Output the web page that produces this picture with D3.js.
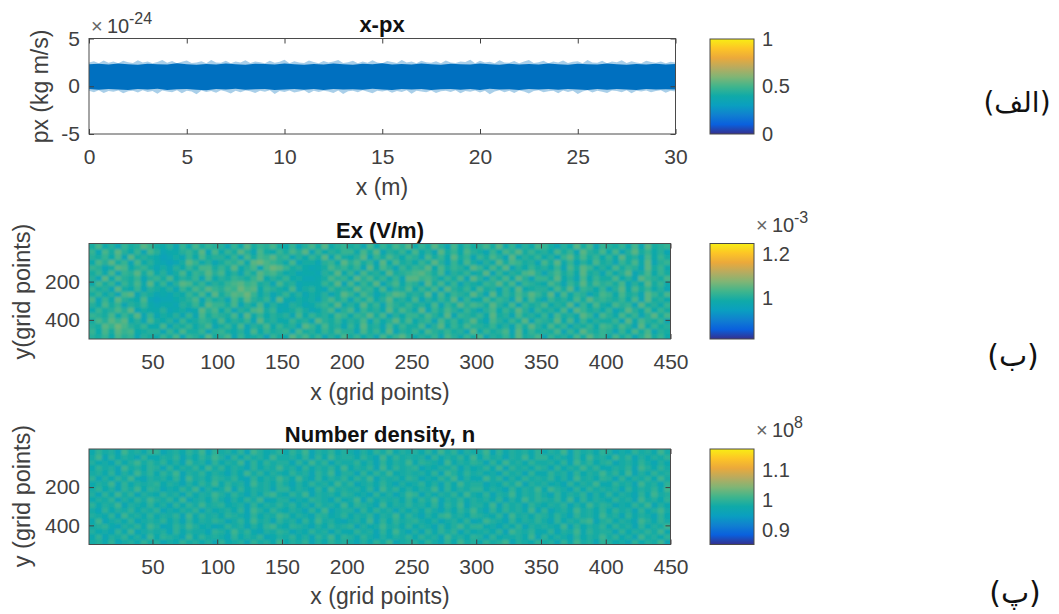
<!DOCTYPE html>
<html lang="en">
<head>
  <meta charset="UTF-8">
  <title>x-px, Ex and number density</title>
  <script src="https://d3js.org/d3.v7.min.js"></script>
  <style>
    html, body { margin: 0; background: #fff; }
    svg { display: block; }
    text { font-family: "Liberation Sans", Arial, sans-serif; fill: #404040; }
    .domain { display: none; }
    .tick line { stroke: #404040; }
    .tick text { font-size: 21px; fill: #404040; }
    .bar .tick text { font-size: 20px; }
  </style>
</head>
<body>
  <svg id="chart" width="1059" height="614"></svg>

  <script>
    // px axis ticks and grid axis ticks
    const pxXTicks = [0, 5, 10, 15, 20, 25, 30];
    const pxYTicks = [-5, 0, 5];
    const gridXTicks = [50, 100, 150, 200, 250, 300, 350, 400, 450];
    const gridYTicks = [200, 400];

    // edge of the x-px cloud, read every 0.5 m, units of 1e-24 kg m/s
    const coreTop = [2.3,2.35,2.28,2.38,2.3,2.25,2.36,2.3,2.27,2.4,2.3,2.26,2.34,2.28,2.38,2.3,2.25,2.36,2.32,2.27,2.38,2.3,2.26,2.34,2.29,2.37,2.31,2.25,2.35,2.3,2.4,2.27,2.33,2.29,2.38,2.3,2.26,2.35,2.3,2.27,2.37,2.31,2.26,2.36,2.29,2.34,2.28,2.38,2.3,2.26,2.35,2.31,2.27,2.37,2.3,2.26,2.34,2.29,2.36,2.28,2.32];
    const coreBottom = [-0.3,-0.36,-0.28,-0.34,-0.4,-0.3,-0.35,-0.27,-0.38,-0.32,-0.28,-0.36,-0.41,-0.3,-0.34,-0.27,-0.37,-0.31,-0.28,-0.39,-0.33,-0.29,-0.36,-0.3,-0.4,-0.28,-0.35,-0.31,-0.37,-0.27,-0.33,-0.38,-0.3,-0.35,-0.28,-0.4,-0.32,-0.29,-0.36,-0.3,-0.38,-0.27,-0.34,-0.31,-0.39,-0.29,-0.35,-0.3,-0.37,-0.28,-0.33,-0.4,-0.3,-0.36,-0.28,-0.34,-0.38,-0.29,-0.35,-0.31,-0.33];
    // stragglers past the edge, read every 0.25 m
    const fringeTop = [2.5,2.62,2.42,2.7,2.46,2.58,2.4,2.66,2.52,2.44,2.72,2.48,2.6,2.42,2.54,2.76,2.46,2.64,2.4,2.56,2.7,2.44,2.5,2.62,2.42,2.74,2.5,2.46,2.66,2.4,2.58,2.48,2.72,2.44,2.6,2.52,2.42,2.68,2.46,2.56,2.78,2.42,2.62,2.5,2.44,2.7,2.54,2.4,2.64,2.48,2.58,2.74,2.44,2.52,2.66,2.42,2.6,2.46,2.72,2.5,2.4,2.64,2.54,2.44,2.76,2.48,2.58,2.42,2.68,2.52,2.46,2.62,2.4,2.7,2.5,2.44,2.6,2.54,2.78,2.42,2.66,2.48,2.56,2.4,2.72,2.5,2.46,2.64,2.42,2.58,2.74,2.44,2.52,2.68,2.4,2.6,2.48,2.7,2.44,2.56,2.62,2.42,2.76,2.5,2.46,2.66,2.4,2.58,2.52,2.72,2.44,2.62,2.48,2.4,2.68,2.54,2.46,2.6,2.42,2.56,2.5];
    const fringeBottom = [-0.46,-0.62,-0.42,-0.7,-0.5,-0.58,-0.44,-0.74,-0.52,-0.46,-0.66,-0.42,-0.6,-0.5,-0.78,-0.44,-0.56,-0.64,-0.42,-0.72,-0.48,-0.54,-0.84,-0.44,-0.6,-0.5,-0.68,-0.42,-0.56,-0.76,-0.46,-0.62,-0.44,-0.52,-0.7,-0.48,-0.58,-0.42,-0.8,-0.5,-0.6,-0.44,-0.66,-0.54,-0.42,-0.74,-0.48,-0.6,-0.46,-0.56,-0.7,-0.44,-0.82,-0.52,-0.46,-0.64,-0.42,-0.58,-0.72,-0.48,-0.54,-0.44,-0.68,-0.5,-0.6,-0.42,-0.78,-0.46,-0.56,-0.64,-0.44,-0.7,-0.52,-0.48,-0.6,-0.42,-0.74,-0.5,-0.58,-0.44,-0.66,-0.46,-0.84,-0.54,-0.42,-0.62,-0.48,-0.7,-0.44,-0.56,-0.76,-0.5,-0.42,-0.64,-0.52,-0.46,-0.72,-0.44,-0.6,-0.48,-0.8,-0.54,-0.42,-0.66,-0.46,-0.58,-0.7,-0.44,-0.5,-0.62,-0.42,-0.74,-0.48,-0.56,-0.44,-0.64,-0.5,-0.42,-0.68,-0.46,-0.54];

    // fields read on a coarse grid, one digit per cell, 90 columns by 18 rows
    const exRows = [
      "5463756254 3647265384 5726345164 3857462537 4635274685 3546275364 7254638457 2645374856 3746258463",
      "6374867345 5263744625 6435273645 6274536475 5274638254 6375464528 3645728364 5472638546 5263747254",
      "5486975463 3725463572 4637254736 4528637452 6384527364 4725836475 5463527485 3746254637 6475283645",
      "4758683527 4352634653 7354628453 3645285463 5472635847 3562746358 4275364826 5483726354 4628375462",
      "6547364826 2435262746 5472836354 5273645376 3658472536 6475382654 6384527453 6274538627 5374625847",
      "3645758243 3523423857 3625478462 3464235725 7264538475 3826475364 2573648526 4537286453 6248537364",
      "5374625463 2332546386 6472537253 2542356483 5384627546 4537264857 6485372645 7354826374 3756284536",
      "7263854372 1223457264 5274854628 3243425746 2647358453 7253648263 3746528374 2645374856 5463728453",
      "4635278254 2324364738 4687963524 6352435248 6375246874 5482736548 5283647586 4827365247 6374528647",
      "6452843625 4352647586 5769783654 3724532645 4856372547 3647285463 7452638345 5374826536 2583746352",
      "3746264738 3625874635 4678674527 4523336482 7364825736 5284736254 3658472654 3752648475 6472538463",
      "5283754625 6473546273 5465468354 6342234756 3857463628 8675364728 5264738526 6483527364 4735286547",
      "4637265847 3524736585 7352648675 3423325483 6274538456 7864725463 4826354785 2574638452 6358247364",
      "6524873564 2425364774 6483572798 6453234756 4628375264 6583746538 6374825364 5362748635 3746528463",
      "3758462735 3212486352 4657389765 3724425638 5746283745 3648526374 2538476452 7483625374 5264738256",
      "5463728454 3124263745 5362747685 6253648274 3582647536 5274638462 6475283546 3526847463 6384527364",
      "6274853627 5233564827 3648527436 4758263546 6374825463 7352846375 4263758464 5374628547 3725846352",
      "4735264586 4352637465 5263846574 3625748356 4527364758 3648527364 5748362537 6425384726 5463728456"
    ];
    const densityRows = [
      "4536245364 5243645352 6345264537 3546253645 4253647245 5364263745 3645725436 4526374526 5342635472",
      "3625463527 3654273645 4263546235 4635264736 5364253546 3645274536 5263445372 6354263547 4635274536",
      "5342637245 4526354426 5374632546 5243645253 3645263742 5263646253 4536275463 3625473645 5263546473",
      "4563254637 5236475342 3645253674 3654253645 6253474536 3542635746 6342536254 5437263546 3645263547",
      "3724536245 4635263546 5246374526 4526374532 4537263645 6435245362 3754263546 4263546725 6354275364",
      "5436274536 3546273645 3654263547 6354265346 3546254736 4253674536 5436274536 5364264537 4526354263",
      "4263546354 6243546253 4536275364 3542637245 5263645253 5364253647 4263645372 6245374536 3645263574",
      "6354725436 3526364745 6345263546 4635264537 3654273546 4536264725 5372645264 3546253746 5243647253",
      "3546253647 5463724536 4253647235 5243654263 4726354536 3647254635 4536253746 5463726354 3645274536",
      "5263746254 3645263547 5364253674 3647254536 5342635247 6253546374 3625473546 4263546253 6354263745",
      "4635264736 5243647253 4726354526 6354263745 4536274635 3547263546 6354263547 3754263645 4526354637",
      "3547263545 6354253647 3645274536 4253645374 6245364253 4635263745 5243647254 5342635473 3645274526",
      "6253647325 4536274536 5463263547 5374263546 3647254536 5243647253 3746253645 4635274536 5263546374",
      "4536253746 3647254635 4253746354 3645264725 5263647345 4536275364 5342645263 3645263547 4637253645",
      "3645274536 5263546374 6354263547 4526354637 3546273645 6243546253 4637264536 5263547463 3546275364",
      "5342635746 4635274526 3547263645 5263746254 4635263547 3654273546 5263745364 4536274635 6245364253",
      "4726354263 3546253647 5263645374 4536263745 5364273645 4526354637 3645254736 6354263745 3746253546",
      "3645274536 6245364726 4536275346 3647254635 4253647354 5363746254 4726354536 3547264536 5243645374"
    ];
    const exLow = 0.945, exStep = 0.013;
    const densityLow = 0.945, densityStep = 0.009;

    // colour bars
    const barDomainPx = [0, 1], barTicksPx = [0, 0.5, 1];
    const barDomainEx = [0.814, 1.25], barTicksEx = [1, 1.2];
    const barDomainN = [0.85, 1.172], barTicksN = [0.9, 1, 1.1];
    const parulaStops = ["#35308e", "#0a60dd", "#1080d0", "#0a9fc0", "#10aaa8", "#40b58c", "#80b575", "#b8ab5f", "#eba93b", "#fdc526", "#f8ee14"];

    const svg = d3.select("#chart");
    const defs = svg.append("defs");
    const blue = "#0070c0";

    const grad = defs.append("linearGradient").attr("id", "parula")
      .attr("x1", 0).attr("x2", 0).attr("y1", 1).attr("y2", 0);
    parulaStops.forEach((c, i) => {
      grad.append("stop").attr("offset", i / (parulaStops.length - 1)).attr("stop-color", c);
    });
    defs.append("filter").attr("id", "soft")
      .append("feGaussianBlur").attr("stdDeviation", 1);

    const parula = d3.scaleLinear()
      .domain(parulaStops.map((c, i) => i / (parulaStops.length - 1)))
      .range(parulaStops).interpolate(d3.interpolateRgb);

    function drawBox(x, y, xTicks, yTicks) {
      const [x0, x1] = x.range();
      const [y1, y0] = y.range();
      const g = svg.append("g");
      g.append("g").attr("transform", `translate(0,${y1})`)
        .call(d3.axisBottom(x).tickValues(xTicks).tickSizeInner(-5).tickSizeOuter(0).tickPadding(15).tickFormat(String));
      g.append("g").attr("transform", `translate(0,${y0})`)
        .call(d3.axisTop(x).tickValues(xTicks).tickSizeInner(-5).tickSizeOuter(0).tickFormat(""));
      g.append("g").attr("transform", `translate(${x0},0)`)
        .call(d3.axisLeft(y).tickValues(yTicks).tickSizeInner(-5).tickSizeOuter(0).tickPadding(9).tickFormat(String));
      g.append("g").attr("transform", `translate(${x1},0)`)
        .call(d3.axisRight(y).tickValues(yTicks).tickSizeInner(-5).tickSizeOuter(0).tickFormat(""));
      g.append("rect").attr("x", x0).attr("y", y0)
        .attr("width", x1 - x0).attr("height", y1 - y0)
        .attr("fill", "none").attr("stroke", "#4a4a4a");
    }

    function drawBar(top, bottom, domain, ticks) {
      const y = d3.scaleLinear().domain(domain).range([bottom, top]);
      svg.append("rect").attr("x", 710).attr("y", top)
        .attr("width", 44).attr("height", bottom - top)
        .attr("fill", "url(#parula)").attr("stroke", "#4a4a4a");
      svg.append("g").attr("class", "bar").attr("transform", "translate(754,0)")
        .call(d3.axisRight(y).tickValues(ticks).tickSizeInner(0).tickSizeOuter(0).tickPadding(8).tickFormat(String));
    }

    function drawField(id, rows, low, step, barDomain, x, y) {
      const cells = rows.map(r => r.replace(/ /g, "").split("").map(d => low + step * +d));
      const color = v => parula((v - barDomain[0]) / (barDomain[1] - barDomain[0]));
      const cols = d3.scaleBand().domain(d3.range(cells[0].length)).range(x.range());
      const rws = d3.scaleBand().domain(d3.range(cells.length)).range(y.range());
      const [x0, x1] = x.range();
      const [yb, yt] = y.range();
      defs.append("clipPath").attr("id", id).append("rect")
        .attr("x", x0).attr("y", yt).attr("width", x1 - x0).attr("height", yb - yt);
      const g = svg.append("g").attr("clip-path", `url(#${id})`);
      g.append("rect").attr("x", x0).attr("y", yt).attr("width", x1 - x0).attr("height", yb - yt)
        .attr("fill", color(low + step * 4.5));
      g.append("g").attr("filter", "url(#soft)")
        .selectAll("g").data(cells).join("g")
        .attr("transform", (d, i) => `translate(0,${rws(i)})`)
        .selectAll("rect").data(d => d).join("rect")
        .attr("x", (d, i) => cols(i))
        .attr("width", cols.bandwidth() + 0.5)
        .attr("height", rws.bandwidth() + 0.5)
        .attr("fill", d => color(d));
    }

    function label(x, y, txt, size, opts = {}) {
      const t = svg.append("text")
        .attr("x", x).attr("y", y)
        .attr("text-anchor", opts.anchor || "middle")
        .style("font-size", size + "px")
        .style("font-weight", opts.bold ? "bold" : "normal")
        .text(txt);
      if (opts.rotate) t.attr("transform", `rotate(-90,${x},${y})`);
      if (opts.color) t.style("fill", opts.color);
      if (opts.family) t.style("font-family", opts.family);
      return t;
    }

    function exponent(x, y, power) {
      label(x, y, "\u00d7", 20, { anchor: "start", color: "#666" });
      label(x + 16, y, "10", 20, { anchor: "start" });
      label(x + 38, y - 9, power, 16, { anchor: "start" });
    }

    // top panel
    const pxX = d3.scaleLinear().domain([0, 30]).range([89, 675.5]);
    const pxY = d3.scaleLinear().domain([-5, 5]).range([134, 38.5]);
    const band = (lo, hi, stepM) => d3.area()
      .x((d, i) => pxX(i * stepM))
      .y0((d, i) => pxY(lo[i]))
      .y1((d, i) => pxY(hi[i]));
    svg.append("path").attr("d", band(fringeBottom, fringeTop, 0.25)(fringeTop)).attr("fill", "#a9cfe9");
    svg.append("path").attr("d", band(coreBottom, coreTop, 0.5)(coreTop)).attr("fill", blue);
    drawBox(pxX, pxY, pxXTicks, pxYTicks);
    drawBar(39, 134, barDomainPx, barTicksPx);

    // middle panel
    const gridX = d3.scaleLinear().domain([1, 450]).range([89, 670.5]);
    const exY = d3.scaleLinear().domain([500, 1]).range([339, 243.5]);
    drawField("clipEx", exRows, exLow, exStep, barDomainEx, gridX, exY);
    drawBox(gridX, exY, gridXTicks, gridYTicks);
    drawBar(243.5, 339, barDomainEx, barTicksEx);

    // bottom panel
    const nY = d3.scaleLinear().domain([500, 1]).range([544.5, 449]);
    drawField("clipN", densityRows, densityLow, densityStep, barDomainN, gridX, nY);
    drawBox(gridX, nY, gridXTicks, gridYTicks);
    drawBar(449, 544.5, barDomainN, barTicksN);

    // titles and axis labels
    label(382, 32, "x-px", 22, { bold: true, color: "#111" });
    label(380, 238, "Ex (V/m)", 22, { bold: true, color: "#111" });
    label(380, 442, "Number density, n", 22, { bold: true, color: "#111" });
    label(382, 195, "x (m)", 23);
    label(380, 400, "x (grid points)", 23);
    label(380, 604, "x (grid points)", 23);
    label(48, 86.5, "px (kg m/s)", 23, { rotate: true });
    label(30, 291.5, "y(grid points)", 23.5, { rotate: true });
    label(30, 496, "y (grid points)", 23.5, { rotate: true });

    exponent(91, 33, "-24");
    exponent(756, 232, "-3");
    exponent(756, 437, "8");

    // panel letters
    const arabic = '"DejaVu Sans", sans-serif';
    label(1017, 112, "(الف)", 28, { family: arabic, color: "#111" }).attr("direction", "rtl");
    label(1013, 366, "(ب)", 30, { family: arabic, color: "#111" }).attr("direction", "rtl");
    label(1015, 603, "(پ)", 30, { family: arabic, color: "#111" }).attr("direction", "rtl");
  </script>
</body>
</html>
